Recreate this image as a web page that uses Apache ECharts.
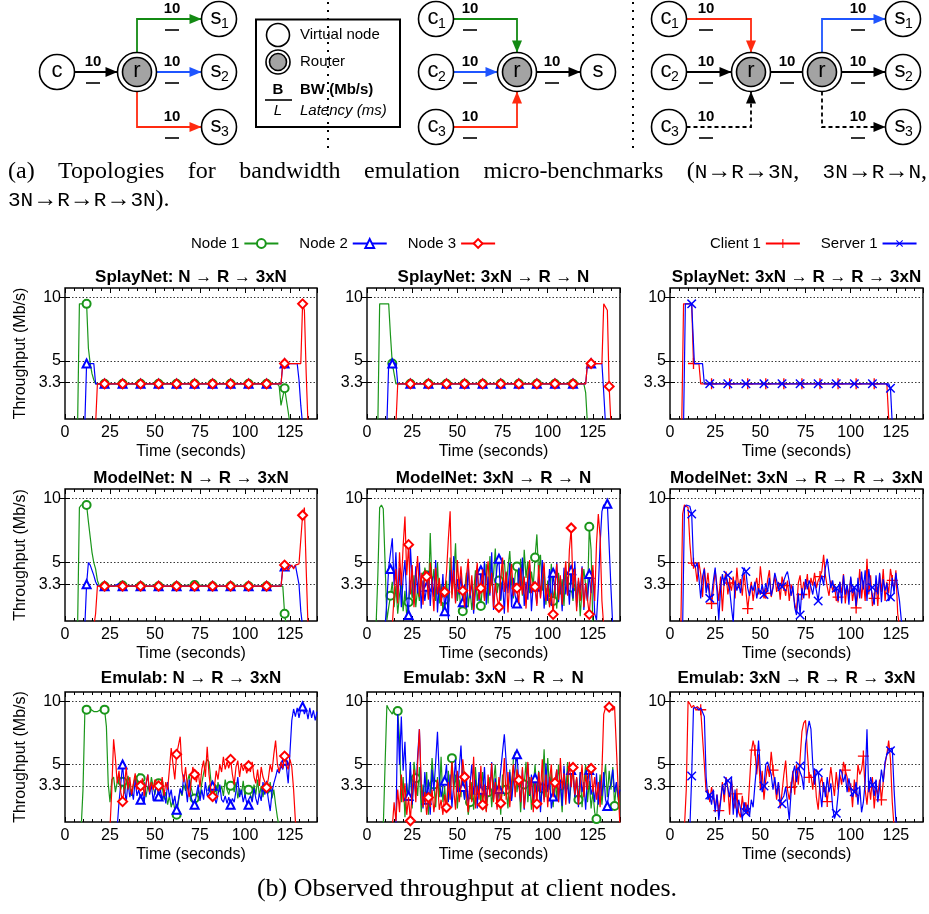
<!DOCTYPE html>
<html><head><meta charset="utf-8">
<script src="https://cdn.jsdelivr.net/npm/echarts@6/dist/echarts.min.js"></script>
<style>html,body{margin:0;padding:0;background:#fff}#c{width:929px;height:914px}</style>
</head><body><div id="c"></div>
<script>
// ---------------- DATA ----------------
const xTickInterval = 25;
const yTickValues = [3.3, 5, 10];
const nodeNames = ['Node 1', 'Node 2', 'Node 3'];
const csNames = ['Client 1', 'Server 1'];
const panelTitles = [
  'SplayNet: N \u2192 R \u2192 3xN', 'SplayNet: 3xN \u2192 R \u2192 N', 'SplayNet: 3xN \u2192 R \u2192 R \u2192 3xN',
  'ModelNet: N \u2192 R \u2192 3xN', 'ModelNet: 3xN \u2192 R \u2192 N', 'ModelNet: 3xN \u2192 R \u2192 R \u2192 3xN',
  'Emulab: N \u2192 R \u2192 3xN', 'Emulab: 3xN \u2192 R \u2192 N', 'Emulab: 3xN \u2192 R \u2192 R \u2192 3xN'
];
const linkBandwidth = '10';

// SplayNet N->R->3xN  [time, Mb/s]
const sp1_node1 = [[7,0],[8,9.5],[12,9.5],[13,6],[14,4.8],[15,4],[16,3.5],[17,3.2],[22,3.2],[32,3.2],[42,3.2],[52,3.2],[62,3.2],[72,3.2],[82,3.2],[92,3.2],[102,3.2],[112,3.2],[118,3.2],[119,3],[120,1.5],[121,2.2],[122,2.85],[123,2.8],[124,1],[125,0]];
const sp1_node2 = [[11,0],[12,4.8],[16,4.8],[17,3.2],[22,3.2],[32,3.2],[42,3.2],[52,3.2],[62,3.2],[72,3.2],[82,3.2],[92,3.2],[102,3.2],[112,3.2],[120,3.2],[121,4.8],[122,4.8],[129,4.8],[130,3.5],[131,1.5],[132,0]];
const sp1_node3 = [[17,0],[18,3.2],[22,3.2],[32,3.2],[42,3.2],[52,3.2],[62,3.2],[72,3.2],[82,3.2],[92,3.2],[102,3.2],[112,3.2],[120,3.2],[121,4.8],[122,4.8],[131,4.8],[132,9.5],[133,9],[134,4],[135,0]];
const sp1_marks = [12, 12, 12];
// SplayNet 3xN->R->N
const sp2_node1 = [[6,0],[7,9.5],[12,9.5],[13,7],[14,4.8],[15,4],[16,3.2],[24,3.2],[34,3.2],[44,3.2],[54,3.2],[64,3.2],[74,3.2],[84,3.2],[94,3.2],[104,3.2],[114,3.2],[120,3.2],[121,2.5],[122,0]];
const sp2_node2 = [[11,0],[12,4.8],[14,4.8],[16,4.8],[17,3.2],[24,3.2],[34,3.2],[44,3.2],[54,3.2],[64,3.2],[74,3.2],[84,3.2],[94,3.2],[104,3.2],[114,3.2],[121,3.2],[122,4.8],[124,4.8],[130,4.8],[131,2.5],[132,0]];
const sp2_node3 = [[16,0],[17,3.2],[24,3.2],[34,3.2],[44,3.2],[54,3.2],[64,3.2],[74,3.2],[84,3.2],[94,3.2],[104,3.2],[114,3.2],[121,3.2],[122,4.8],[124,4.8],[130,4.8],[131,9.5],[132,9.5],[133,9],[134,3],[135,0]];
const sp2_marks = [14, 14, 14];
// SplayNet 3xN->R->R->3xN
const sp3_client = [[6.5,0],[7.5,9.5],[12,9.5],[13,4.8],[16,4.8],[17,3.2],[23,3.2],[33,3.2],[43,3.2],[53,3.2],[63,3.2],[73,3.2],[83,3.2],[93,3.2],[103,3.2],[113,3.2],[120,3.2],[121,0.5],[122,0]];
const sp3_server = [[7.5,0],[8.5,9.5],[12,9.5],[12.5,9.5],[13.5,4.8],[18,4.8],[19,3.2],[22,3.2],[32,3.2],[42,3.2],[52,3.2],[62,3.2],[72,3.2],[82,3.2],[92,3.2],[102,3.2],[112,3.2],[121,3.2],[122,2.85],[123,0]];
const sp3_marks = [13, 12];
// ModelNet N->R->3xN
const mn1_node1 = [[7,0],[8,9.3],[9,9.5],[12,9.5],[13,8.2],[14,7],[15,5.8],[16,5],[17,4.5],[18,3.6],[19,3.2],[22,3.15],[32,3.2],[42,3.15],[52,3.15],[62,3.15],[72,3.25],[82,3.15],[92,3.15],[102,3.15],[112,3.15],[121,3.15],[122,1],[123,0]];
const mn1_node2 = [[11,0],[12,3.3],[13,5],[14,4.8],[15,4.8],[16,4],[17,3.5],[18,3.2],[22,3.15],[27,3.15],[30,3.35],[32,3.15],[42,3.15],[52,3.15],[62,3.15],[72,3.15],[82,3.15],[92,3.15],[102,3.15],[112,3.15],[120,3.15],[121,4.6],[122,4.7],[123,4.9],[124,4.6],[125,4.8],[126,4.9],[127,4.6],[128,4.8],[129,4.9],[130,3.3],[131,1.2],[132,0]];
const mn1_node3 = [[16,0],[17,1],[18,3.15],[22,3.15],[32,3.15],[42,3.15],[52,3.15],[62,3.15],[72,3.15],[82,3.15],[92,3.15],[102,3.15],[112,3.15],[120,3.15],[121,4.5],[122,4.8],[123,4.6],[124,4.4],[125,4.6],[126,4.8],[127,4.5],[128,4.8],[129,4.8],[130,4.9],[131,5],[132,8.7],[133,9.3],[134,4.5],[135,0]];
const mn1_marks = [12, 12, 12];
// ModelNet 3xN->R->N  (one sample per second from start time)
const mn2_node1_start = 5;
const mn2_node1 = [0,4,9.3,9.5,9.2,5,0.5,1.5,2.4,3.5,1.5,3.2,1.0,2.5,3.4,1.2,2.8,0.8,1.9,3.6,2.2,4.0,1.5,3.0,2.0,3.8,2.5,4.6,4.0,2.2,7.3,3.0,4.5,2.0,5.0,1.8,3.3,1.2,2.1,3.6,1.6,5.4,2.5,3.9,6.5,2.0,3.2,0.9,1.2,2.8,4.2,1.5,3.0,1.3,2.6,4.4,2.0,3.0,1.6,3.4,2.2,4.9,1.8,5.5,3.2,4.0,6.1,2.6,3.6,2.0,4.8,5.2,3.0,4.6,5.9,3.4,2.2,4.1,4.7,3.0,5.3,2.4,6.0,3.8,5.1,2.6,4.3,3.2,5.4,7.2,4.0,5.6,2.8,4.5,1.7,3.6,2.3,4.9,2.0,3.1,1.4,4.2,2.5,3.7,1.6,4.4,2.8,5.0,3.05,2.0,4.6,1.8,3.5,0.8,2.9,4.5,3.2,2.0,7.8,6.0,0];
const mn2_node2_start = 10;
const mn2_node2 = [0,2.0,4.6,4.5,6.9,3.2,5.8,2.1,4.6,1.5,3.8,5.2,2.2,0.9,6.3,3.5,1.8,4.7,2.6,5.0,1.4,3.6,2.0,3.1,4.3,1.6,3.9,2.3,5.2,1.1,3.4,2.0,4.1,1.2,3.0,0.6,4.4,2.8,5.5,1.9,3.7,2.5,4.0,1.9,3.3,1.4,4.8,2.2,3.6,1.0,2.8,4.5,2.0,4.4,3.0,5.1,1.7,3.9,2.4,5.8,1.3,3.2,4.7,5.3,2.1,3.6,1.0,4.2,2.6,5.0,1.5,3.8,2.4,1.8,4.6,2.9,5.4,1.6,3.5,2.1,4.8,1.2,3.3,3.1,1.8,4.1,2.3,5.2,1.4,3.0,2.0,4.5,1.6,4.2,2.8,5.0,1.9,3.7,1.2,4.6,2.5,3.9,1.7,4.4,2.2,5.1,1.5,3.6,2.8,4.7,1.3,3.4,2.0,4.1,2.6,4.4,1.0,0.5,3.0,6.5,9.0,9.5,9.6,9.6,9.5,3.0,0];
const mn2_node3_start = 14;
const mn2_node3 = [0,2.5,4.5,1.8,5.8,3.2,6.3,8.6,4.0,6.4,2.5,4.8,1.5,3.6,5.5,2.3,4.2,1.7,4.4,3.9,2.1,5.0,3.3,1.2,4.6,2.5,3.8,1.6,3.1,2.7,4.2,6.8,9.0,2.2,4.4,1.8,5.2,3.0,4.7,2.8,1.5,3.9,5.3,2.4,4.0,1.3,3.5,5.0,2.1,3.0,4.5,2.0,3.7,5.1,2.6,4.2,1.5,3.4,2.2,1.5,3.8,5.4,2.7,4.3,1.1,3.6,4.9,2.4,3.4,3.0,1.8,4.6,2.5,3.9,1.4,4.1,5.2,2.6,3.5,3.1,1.6,4.8,2.2,3.7,5.0,2.0,3.3,1.5,2.6,0.95,3.2,4.9,2.1,4.0,1.7,3.6,5.1,2.4,6.0,7.7,3.0,4.5,1.2,3.8,2.0,4.6,1.5,3.4,2.1,0.95,3.0,4.8,2.0,6.5,8.8,7.0,2.0,0];
const mn2_marks = [13, 13, 13];
// ModelNet 3xN->R->R->3xN
const mn3_client_start = 6;
const mn3_client = [0,8.8,9.5,9.5,9.3,6.5,4.8,4.95,4.7,3.5,5.0,4.1,2.3,4.6,3.0,4.2,2.6,1.8,2.9,4.4,3.2,2.0,3.9,1.2,3.6,4.3,2.5,3.4,2.8,3.9,2.2,4.6,3.0,3.7,2.4,4.2,2.8,1.4,2.6,3.5,2.0,3.1,3.8,2.5,4.7,3.3,2.2,2.6,3.6,4.4,2.3,3.0,4.0,2.7,3.5,2.1,3.9,3.2,2.4,3.6,2.0,3.3,2.7,1.8,1.2,3.4,4.0,2.5,3.5,2.9,4.1,2.2,3.8,3.2,4.2,3.0,3.6,3.9,4.3,5.6,4.0,3.1,2.4,3.6,2.8,3.3,2.0,2.3,3.5,2.6,4.1,1.8,3.2,2.4,3.8,2.0,3.0,1.45,2.6,4.5,2.2,3.6,2.0,5.3,2.5,4.0,1.6,2.2,3.4,1.6,4.1,2.7,4.5,2.0,3.5,2.6,4.5,3.6,2.8,4.4,1.0,0];
const mn3_server_start = 7;
const mn3_server = [0,9.3,9.5,9.5,9.4,8.8,5.0,4.6,5.0,3.8,2.2,3.9,4.5,2.6,3.4,2.2,2.4,3.6,4.6,2.8,0.5,3.0,4.1,3.2,4.0,4.0,2.9,1.5,0.3,3.6,2.8,3.4,2.6,3.9,4.6,4.3,3.0,2.4,3.2,2.8,3.5,2.2,3.0,2.5,3.3,2.5,3.4,2.7,3.8,2.4,3.1,4.2,3.6,2.9,3.4,3.1,3.6,4.0,4.3,3.5,2.4,3.2,1.5,0.9,2.6,0.9,3.0,2.2,3.7,2.9,3.6,3.1,2.5,3.5,2.8,2.0,3.4,4.0,3.2,4.6,5.3,4.2,3.0,3.6,2.7,3.0,2.0,3.5,1.8,4.0,2.5,3.3,1.7,3.9,2.6,3.05,1.6,3.8,2.2,4.3,2.9,4.4,2.0,4.5,3.2,3.05,1.7,4.0,2.5,4.2,1.9,3.7,2.8,3.4,2.0,2.3,3.8,2.6,4.2,3.0,2.0,0.5,0];
const mn3_marks = [13, 12];
// Emulab N->R->3xN
const em1_node1_start = 9;
const em1_node1 = [0,3,9.0,9.35,9.3,9.4,9.3,9.2,9.3,9.2,9.3,9.35,9.3,9.35,8.0,3.5,2.0,3.8,4.0,2.8,3.6,4.2,3.0,3.63,2.7,3.5,4.1,3.2,2.5,3.4,4.0,3.1,4.3,3.9,3.0,3.6,2.4,3.3,2.8,4.0,3.2,2.6,3.7,3.5,2.9,3.3,2.2,2.8,1.8,2.5,1.6,2.2,1.4,1.0,2.0,3.0,2.5,3.4,2.9,3.6,4.2,3.2,2.6,2.3,2.0,3.0,2.4,3.5,4.3,5.0,5.4,5.2,3.8,3.1,2.7,2.4,3.6,2.8,3.3,2.5,3.8,3.0,2.6,3.3,3.5,2.8,3.6,2.3,3.1,2.6,3.7,2.4,3.2,3.0,2.9,2.2,3.4,2.6,3.8,2.5,3.3,2.4,3.5,3.1,2.7,3.6,2.3,3.0,1.8,0.8,0];
const em1_node2_start = 29;
const em1_node2 = [0,2.0,3.5,5.0,3.2,2.0,3.6,2.4,3.0,2.2,3.8,2.5,3.0,2.2,2.8,2.0,3.5,4.2,2.6,3.4,2.1,2.9,3.3,2.45,3.0,2.2,2.8,1.9,3.6,2.4,3.0,1.8,2.5,1.4,2.2,3.1,2.6,4.2,3.3,2.0,3.8,2.4,2.0,1.8,2.6,3.4,2.1,3.0,2.2,3.6,2.5,2.8,3.2,3.3,2.4,1.9,2.6,3.4,2.2,2.0,2.5,1.9,2.4,1.8,2.3,2.0,2.9,4.0,2.4,3.0,2.0,2.6,1.9,1.8,2.5,2.0,3.1,2.3,1.8,2.7,2.1,3.6,2.6,3.24,2.2,1.3,2.8,3.5,4.0,4.6,4.3,4.9,4.6,5.3,4.8,3.5,6.0,8.5,9.4,8.8,9.5,8.7,9.4,9.6,9.0,9.4,8.6,9.5,8.7,9.3,8.5,9.2];
const em1_node3_start = 25;
const em1_node3 = [0,3.0,7.0,5.5,3.5,4.5,2.8,2.05,3.2,4.8,3.0,4.0,2.6,3.5,4.3,3.0,3.6,3.3,3.9,2.5,3.4,4.2,2.8,3.6,3.0,3.8,3.5,3.3,3.0,4.0,2.5,3.6,3.0,4.6,6.3,5.0,3.8,5.8,6.5,7.2,4.5,3.6,4.8,3.2,2.4,3.5,4.8,4.2,3.6,4.4,3.2,4.6,5.3,4.0,6.4,4.2,3.0,2.45,3.2,4.5,3.8,5.0,4.4,5.6,4.6,5.2,4.7,5.4,4.2,3.4,4.8,5.3,4.0,5.1,4.5,4.9,4.3,4.9,4.4,5.2,4.0,3.5,4.6,3.3,4.8,4.0,3.6,3.16,3.9,5.0,4.4,5.8,6.9,5.0,4.4,5.2,4.7,5.66,5.0,4.6,5.4,4.8,3.0,0.5,0];
const em1_marks = [12, 12, 12];
// Emulab 3xN->R->N
const em2_node1_start = 9;
const em2_node1 = [0,5,9.7,9.4,9.5,9.0,9.4,9.3,9.24,7.0,2.0,4.0,0.8,3.5,2.2,4.6,1.5,5.2,3.9,2.5,4.8,1.2,3.4,2.0,4.4,1.0,2.8,5.5,3.4,1.6,4.0,2.4,5.6,2.0,3.2,1.2,4.5,2.6,5.5,3.0,4.2,1.5,3.8,2.4,5.0,2.2,3.5,1.0,2.0,3.6,1.4,4.8,2.6,3.9,1.8,4.4,2.9,1.3,2.8,4.0,1.6,3.5,5.0,2.2,3.8,1.0,4.2,2.5,3.0,1.5,4.6,2.3,5.5,6.0,2.8,4.2,1.2,3.6,3.4,5.2,2.0,4.0,1.4,3.2,5.0,2.6,4.5,1.8,3.1,6.2,2.4,5.5,3.0,4.4,1.6,3.8,2.2,5.0,3.3,1.2,4.6,2.8,5.2,1.9,3.6,4.8,2.4,3.9,2.2,4.4,1.6,3.4,5.0,2.0,3.7,1.5,2.8,1.2,0.66,2.5,4.2,1.8,3.6,5.0,2.4,4.5,3.0,4.8,1.7,3.5,2.2,1.8];
const em2_node2_start = 16;
const em2_node2 = [0,9.0,5.0,8.8,4.5,6.8,3.0,2.5,5.2,1.8,4.0,2.6,5.6,7.8,3.2,1.5,4.4,2.2,3.8,1.0,4.6,2.9,5.2,7.6,4.0,2.4,3.2,3.7,5.0,2.0,4.2,1.6,3.5,5.4,2.8,4.6,6.5,3.2,2.2,4.0,1.8,3.4,5.0,2.6,3.8,1.5,4.4,3.0,2.4,4.8,2.0,3.6,2.8,5.2,2.2,3.9,1.6,3.05,4.5,6.0,7.4,5.2,3.0,4.4,2.1,3.6,4.8,5.8,3.5,2.0,4.6,1.4,3.3,5.0,2.5,4.2,1.8,3.9,2.6,4.4,1.2,3.6,2.2,5.1,2.8,4.0,1.5,2.45,3.4,4.6,2.0,3.8,1.7,4.9,2.6,3.5,1.9,4.55,4.2,2.4,3.9,1.6,4.4,2.8,3.6,1.4,4.0,4.55,2.6,3.2,2.0,4.3,1.8,3.7,2.5,4.4,2.2,1.7,3.0,3.5,4.6,2.8,3.6,2.4,3.0];
const em2_node3_start = 14;
const em2_node3 = [0,2.0,0.5,3.0,1.2,4.2,2.0,3.5,1.0,2.4,0.53,3.0,4.6,2.0,5.0,7.8,3.5,1.6,2.8,1.0,2.37,1.6,3.0,1.2,2.5,3.8,1.4,2.2,1.0,2.6,1.58,3.6,2.2,5.2,3.0,1.4,4.5,2.0,3.2,5.4,4.0,2.5,1.2,3.8,2.0,5.6,1.5,3.3,2.2,4.9,1.8,3.4,1.2,4.2,2.5,5.1,2.0,3.6,1.4,4.0,1.92,3.0,5.5,2.2,4.4,1.6,3.6,5.0,2.4,4.6,3.76,2.0,4.8,1.5,3.4,5.2,2.6,4.0,1.2,3.5,1.87,4.4,2.8,5.4,2.0,4.2,1.6,3.8,5.0,2.4,3.55,4.6,2.0,5.5,3.0,4.3,1.8,3.9,5.2,3.2,4.76,2.6,4.0,1.8,3.4,5.0,2.4,4.2,3.0,4.9,4.68,2.8,4.0,2.2,3.6,1.6,4.5,9.0,9.5,9.4,9.55,9.5,9.3,9.6,9.5,3.0,0];
const em2_marks = [17, 23, 24];
// Emulab 3xN->R->R->3xN
const em3_client_start = 8;
const em3_client = [0,3,10.0,9.8,9.5,9.7,9.4,9.6,9.5,9.34,9.2,5.0,2.8,3.0,2.0,3.2,2.4,1.5,2.6,1.34,2.2,3.6,2.0,4.0,3.2,1.0,3.8,2.4,1.5,2.66,1.2,0.8,2.5,1.3,2.0,1.0,3.5,6.0,6.9,6.13,4.2,5.8,3.0,4.5,2.2,3.8,4.9,4.0,6.0,4.55,3.5,2.2,3.6,1.5,2.8,4.2,5.3,3.0,2.2,3.18,4.5,2.6,5.0,3.4,5.5,7.6,8.3,8.5,6.0,3.97,4.2,3.0,4.6,2.4,1.4,3.5,4.0,2.8,3.2,2.05,3.4,4.8,3.6,2.5,4.4,3.0,4.2,3.4,5.2,4.55,4.0,2.8,3.5,1.6,3.8,2.4,5.0,4.2,4.6,5.66,3.0,1.8,3.6,2.2,4.0,1.5,3.2,2.6,3.8,2.18,3.6,5.0,5.8,6.9,5.4,2.0,0];
const em3_server_start = 11;
const em3_server = [0,4.08,9.5,9.4,9.5,9.3,9.5,9.4,8.8,4.0,2.2,2.58,1.8,3.0,1.2,2.6,0.6,2.0,3.4,2.6,3.8,3.7,2.4,4.0,1.0,3.0,0.8,2.2,1.5,0.6,2.0,1.18,1.8,0.9,2.2,1.6,3.4,5.0,6.9,4.5,2.8,3.29,5.0,5.2,5.2,4.2,3.0,4.0,2.6,3.6,2.0,1.87,2.5,3.2,2.0,0.6,2.8,4.3,4.9,3.6,4.8,4.87,4.0,3.0,6.6,7.6,8.45,7.8,5.0,3.4,4.6,4.34,3.0,1.6,3.6,2.4,4.0,2.8,3.5,1.6,0.7,1.13,2.6,4.6,4.4,3.6,4.2,2.8,3.9,3.0,2.4,2.84,3.6,1.8,3.3,1.2,2.0,3.6,7.8,2.8,4.0,3.37,2.5,3.8,2.0,3.2,4.6,3.6,5.2,5.8,6.2,6.08,6.3,3.0,0.5,0];
const em3_marks = [17, 12];

// ---------------- LAYOUT / STYLE ----------------
const FONT = 'Liberation Sans';
const GREEN = '#1a961a', BLUE = '#0000ff', RED = '#ff0000';
const PLUS = 'path://M4.4,0 H5.6 V4.4 H10 V5.6 H5.6 V10 H4.4 V5.6 H0 V4.4 H4.4 Z';
const nodeStyle = [
  {color: GREEN, symbol: 'emptyCircle', size: 8, rotate: 0, bw: 1.2},
  {color: BLUE, symbol: 'emptyTriangle', size: 8, rotate: 0, bw: 1.2},
  {color: RED, symbol: 'emptyDiamond', size: 9, rotate: 0, bw: 1.2}
];
const csStyle = [
  {color: RED, symbol: PLUS, size: 11, rotate: 0, bw: 0},
  {color: BLUE, symbol: PLUS, size: 12, rotate: 45, bw: 0}
];
const cols = [{left: 65, width: 252}, {left: 367, width: 253}, {left: 670, width: 253}];
const rows = [{top: 288, height: 131, titleY: 277}, {top: 489, height: 132, titleY: 478}, {top: 692, height: 130, titleY: 678}];
const X_MAX = 140, Y_MIN = 0.43, Y_MAX = 10.75;

function seq(start, vals) { return vals.map((v, i) => [start + i, v]); }

const panels = [
  {names: nodeNames, sty: nodeStyle, data: [sp1_node1, sp1_node2, sp1_node3], marks: sp1_marks},
  {names: nodeNames, sty: nodeStyle, data: [sp2_node1, sp2_node2, sp2_node3], marks: sp2_marks},
  {names: csNames, sty: csStyle, data: [sp3_client, sp3_server], marks: sp3_marks},
  {names: nodeNames, sty: nodeStyle, data: [mn1_node1, mn1_node2, mn1_node3], marks: mn1_marks},
  {names: nodeNames, sty: nodeStyle, data: [seq(mn2_node1_start, mn2_node1), seq(mn2_node2_start, mn2_node2), seq(mn2_node3_start, mn2_node3)], marks: mn2_marks},
  {names: csNames, sty: csStyle, data: [seq(mn3_client_start, mn3_client), seq(mn3_server_start, mn3_server)], marks: mn3_marks},
  {names: nodeNames, sty: nodeStyle, data: [seq(em1_node1_start, em1_node1), seq(em1_node2_start, em1_node2), seq(em1_node3_start, em1_node3)], marks: em1_marks},
  {names: nodeNames, sty: nodeStyle, data: [seq(em2_node1_start, em2_node1), seq(em2_node2_start, em2_node2), seq(em2_node3_start, em2_node3)], marks: em2_marks},
  {names: csNames, sty: csStyle, data: [seq(em3_client_start, em3_client), seq(em3_server_start, em3_server)], marks: em3_marks}
];

const grids = [], xAxes = [], yAxes = [], series = [], graphics = [];

panels.forEach((p, i) => {
  const r = Math.floor(i / 3), c = i % 3;
  const g = {left: cols[c].left, width: cols[c].width, top: rows[r].top, height: rows[r].height,
    show: true, borderColor: '#000', borderWidth: 1.4, backgroundColor: 'rgba(0,0,0,0)'};
  grids.push(g);
  const xBase = {gridIndex: i, type: 'value', min: 0, max: X_MAX, interval: xTickInterval,
    axisLine: {show: false}, splitLine: {show: false},
    axisTick: {inside: true, length: 5, lineStyle: {color: '#000', width: 1}},
    minorTick: {show: true, splitNumber: 5, length: 3, lineStyle: {color: '#000', width: 1}}};
  xAxes.push(Object.assign({}, xBase, {position: 'bottom',
    axisLabel: {fontSize: 16, color: '#000', fontFamily: FONT, margin: 6, showMaxLabel: false},
    name: 'Time (seconds)', nameLocation: 'middle', nameGap: 25,
    nameTextStyle: {fontSize: 16, color: '#000', fontFamily: FONT}}));
  xAxes.push(Object.assign({}, xBase, {position: 'top', axisLabel: {show: false}}));
  const yBase = {gridIndex: i, type: 'value', min: Y_MIN, max: Y_MAX,
    axisLine: {show: false},
    axisTick: {inside: true, length: 5, customValues: yTickValues, lineStyle: {color: '#000'}}};
  yAxes.push(Object.assign({}, yBase, {position: 'left',
    axisLabel: {customValues: yTickValues, fontSize: 16, color: '#000', fontFamily: FONT, margin: 4, formatter: v => String(v)},
    splitLine: {show: true, lineStyle: {type: [1.5, 2], color: '#222', width: 0.9}},
    name: c === 0 ? 'Throughput (Mb/s)' : '', nameLocation: 'middle', nameGap: 36, nameRotate: 90,
    nameTextStyle: {fontSize: 16, color: '#000', fontFamily: FONT}}));
  yAxes.push(Object.assign({}, yBase, {position: 'right', axisLabel: {show: false}, splitLine: {show: false}}));

  p.data.forEach((pts, k) => {
    const st = p.sty[k], m0 = p.marks[k];
    const data = pts.map(([t, v]) => (t >= m0 && (t - m0) % 10 === 0) ? [t, v] : {value: [t, v], symbol: 'none'});
    series.push({
      type: 'line', name: p.names[k], xAxisIndex: 2 * i, yAxisIndex: 2 * i, data,
      symbol: st.symbol, symbolSize: st.size, symbolRotate: st.rotate, showSymbol: true, showAllSymbol: true,
      lineStyle: {color: st.color, width: 1.2}, itemStyle: {color: st.color, borderColor: st.color, borderWidth: st.bw},
      emphasis: {disabled: true}, animation: false, z: 3 + k
    });
  });
  graphics.push({type: 'text', x: g.left + g.width / 2, y: rows[r].titleY,
    style: {text: panelTitles[i], font: 'bold 17px "' + FONT + '"', fill: '#000', align: 'center', verticalAlign: 'middle'}});
});

// ---------------- TOPOLOGY DIAGRAMS ----------------
const DG = '#138a13', DB = '#1f55ff', DR = '#ff2a10';
function addCircle(cx, cy, r, fill, lw) { graphics.push({type: 'circle', shape: {cx, cy, r}, style: {fill, stroke: '#000', lineWidth: lw || 1.6}, z: 10}); }
function addText(x, y, text, font, align) { graphics.push({type: 'text', x, y, style: {text, font, fill: '#000', align: align || 'center', verticalAlign: 'middle'}, z: 11}); }
function vnode(cx, cy, letter, sub) {
  addCircle(cx, cy, 17.5, '#fff');
  if (sub) { addText(cx - 3, cy - 1, letter, '22px "' + FONT + '"'); addText(cx + 6, cy + 5, sub, '14px "' + FONT + '"'); }
  else addText(cx, cy - 1, letter, '22px "' + FONT + '"');
}
function router(cx, cy) { addCircle(cx, cy, 19.5, '#fff'); addCircle(cx, cy, 14.5, '#a3a3a3'); addText(cx, cy - 1, 'r', '22px "' + FONT + '"'); }
function edge(pts, color, dashed, arrow) {
  graphics.push({type: 'polyline', shape: {points: pts}, style: {stroke: color, lineWidth: 1.8, fill: null, lineDash: dashed ? [4, 3] : null}, z: 9});
  if (arrow) {
    const [x1, y1] = pts[pts.length - 2], [x2, y2] = pts[pts.length - 1];
    const dx = x2 - x1, dy = y2 - y1, L = Math.hypot(dx, dy), ux = dx / L, uy = dy / L, hl = 12, hw = 5;
    const bx = x2 - ux * hl, by = y2 - uy * hl;
    graphics.push({type: 'polygon', shape: {points: [[x2, y2], [bx - uy * hw, by + ux * hw], [bx + uy * hw, by - ux * hw]]}, style: {fill: color}, z: 9});
  }
}
function bw(x, ly) {
  addText(x, ly - 10, linkBandwidth, 'bold 15px "' + FONT + '"');
  graphics.push({type: 'line', shape: {x1: x - 7, y1: ly + 11, x2: x + 7, y2: ly + 11}, style: {stroke: '#000', lineWidth: 1.6}, z: 11});
}
// diagram 1
edge([[74.5, 72], [117.5, 72]], '#000', false, true); bw(93, 72);
edge([[137, 52.5], [137, 19], [201.5, 19]], DG, false, true); bw(172, 19);
edge([[156.5, 72], [201.5, 72]], DB, false, true); bw(172, 72);
edge([[137, 91.5], [137, 127], [201.5, 127]], DR, false, true); bw(172, 127);
vnode(57, 72, 'c'); router(137, 72); vnode(219, 19, 's', '1'); vnode(219, 72, 's', '2'); vnode(219, 127, 's', '3');
// key box
graphics.push({type: 'rect', shape: {x: 256, y: 19.5, width: 144, height: 107.5}, style: {fill: '#fff', stroke: '#000', lineWidth: 2}, z: 8});
addCircle(278, 35, 11.5, '#fff'); addCircle(278, 62, 12, '#fff'); addCircle(278, 62, 8.5, '#a3a3a3');
addText(300, 35, 'Virtual node', '15px "' + FONT + '"', 'left');
addText(300, 62, 'Router', '15px "' + FONT + '"', 'left');
addText(278, 90, 'B', 'bold 15px "' + FONT + '"');
graphics.push({type: 'line', shape: {x1: 265, y1: 100, x2: 292, y2: 100}, style: {stroke: '#000', lineWidth: 1.6}, z: 11});
addText(278, 111, 'L', 'italic 15px "' + FONT + '"');
addText(300, 90, 'BW (Mb/s)', 'bold 15px "' + FONT + '"', 'left');
addText(300, 111, 'Latency (ms)', 'italic 15px "' + FONT + '"', 'left');
// separators
[328, 633].forEach(x => graphics.push({type: 'line', shape: {x1: x, y1: 2, x2: x, y2: 148}, style: {stroke: '#000', lineWidth: 2, lineDash: [2, 6]}, z: 8}));
// diagram 2
edge([[453.5, 19], [517, 19], [517, 52.5]], DG, false, true); bw(470, 19);
edge([[453.5, 72], [497.5, 72]], DB, false, true); bw(470, 72);
edge([[453.5, 127], [517, 127], [517, 91.5]], DR, false, true); bw(470, 127);
edge([[536.5, 72], [580.5, 72]], '#000', false, true); bw(552, 72);
vnode(436, 19, 'c', '1'); vnode(436, 72, 'c', '2'); vnode(436, 127, 'c', '3'); router(517, 72); vnode(598, 72, 's');
// diagram 3
edge([[686.5, 19], [751, 19], [751, 52.5]], DR, false, true); bw(706, 19);
edge([[686.5, 72], [731.5, 72]], '#000', false, true); bw(706, 72);
edge([[686.5, 127], [751, 127], [751, 91.5]], '#000', true, true); bw(706, 127);
edge([[770.5, 72], [802.5, 72]], '#000', false, false); bw(787, 72);
edge([[822, 52.5], [822, 19], [885.5, 19]], DB, false, true); bw(858, 19);
edge([[841.5, 72], [885.5, 72]], '#000', false, true); bw(858, 72);
edge([[822, 91.5], [822, 127], [885.5, 127]], '#000', true, true); bw(858, 127);
vnode(669, 19, 'c', '1'); vnode(669, 72, 'c', '2'); vnode(669, 127, 'c', '3'); router(751, 72); router(822, 72);
vnode(903, 19, 's', '1'); vnode(903, 72, 's', '2'); vnode(903, 127, 's', '3');

// ---------------- CAPTIONS ----------------
const SER = '24px "Liberation Serif"', MON = '21px "Liberation Mono"', ARR = '24px "Liberation Serif"';
const mctx = document.createElement('canvas').getContext('2d');
function tw(s, f) { mctx.font = f; return mctx.measureText(s).width; }
function placeLine(words, y, x0, x1, justify) {
  const widths = words.map(wd => wd.reduce((a, [s, f]) => a + tw(s, f), 0));
  const total = widths.reduce((a, b) => a + b, 0);
  const gap = justify ? (x1 - x0 - total) / (words.length - 1) : tw(' ', SER);
  let x = x0;
  words.forEach((wd, j) => {
    let xx = x;
    wd.forEach(([s, f]) => { graphics.push({type: 'text', x: xx, y, style: {text: s, font: f, fill: '#000', align: 'left', verticalAlign: 'middle'}}); xx += tw(s, f); });
    x += widths[j] + gap;
  });
}
const AR = '\u2192';
placeLine([[['(a)', SER]], [['Topologies', SER]], [['for', SER]], [['bandwidth', SER]], [['emulation', SER]], [['micro-benchmarks', SER]],
  [['(', SER], ['N', MON], [AR, ARR], ['R', MON], [AR, ARR], ['3N', MON], [',', SER]],
  [['3N', MON], [AR, ARR], ['R', MON], [AR, ARR], ['N', MON], [',', SER]]], 172, 8, 927, true);
placeLine([[['3N', MON], [AR, ARR], ['R', MON], [AR, ARR], ['R', MON], [AR, ARR], ['3N', MON], [').', SER]]], 200, 8, 927, false);
graphics.push({type: 'text', x: 467, y: 889, style: {text: '(b) Observed throughput at client nodes.', font: '26px "Liberation Serif"', fill: '#000', align: 'center', verticalAlign: 'middle'}});

// ---------------- CHART ----------------
const chart = echarts.init(document.getElementById('c'), null, {renderer: 'canvas'});
chart.setOption({
  animation: false,
  backgroundColor: '#fff',
  textStyle: {fontFamily: FONT},
  legend: [
    {data: nodeNames, left: 186, top: 231, align: 'right', itemWidth: 34, itemHeight: 11, itemGap: 20, selectedMode: false,
      textStyle: {fontSize: 15, color: '#000', fontFamily: FONT}},
    {data: csNames, left: 705, top: 231, align: 'right', itemWidth: 34, itemHeight: 11, itemGap: 20, selectedMode: false,
      textStyle: {fontSize: 15, color: '#000', fontFamily: FONT}}
  ],
  grid: grids, xAxis: xAxes, yAxis: yAxes, series, graphic: graphics
});
</script></body></html>
